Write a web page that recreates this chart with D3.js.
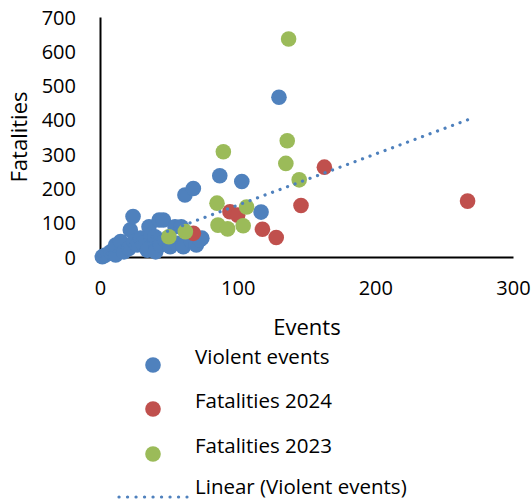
<!DOCTYPE html>
<html>
<head>
<meta charset="utf-8">
<script src="https://cdn.jsdelivr.net/npm/d3@7"></script>
<style>
  html, body { margin: 0; padding: 0; background: #fff; }
  svg { display: block; }
  text { font-family: "Open Sans", "Noto Sans", sans-serif; fill: #000; }
</style>
</head>
<body>
<svg id="chart" width="532" height="501"></svg>
<script>
// ---- data ----
const violentX = [1.7, 4, 7.8, 11.4, 11.4, 15, 17.4, 21, 22, 24, 24.7, 27, 29.5, 31, 34.4, 35.6, 36.8, 40, 41, 40.4, 43, 46, 44, 47, 51, 54.5, 55.7, 59, 60.5, 61.7, 66.5, 67.8, 70, 74, 72.6, 87, 103, 117, 130];
const violentY = [1, 6, 15, 6, 35, 45, 15, 25, 79, 118, 45, 35, 55, 40, 20, 88, 64, 59, 25, 15, 108, 108, 35, 50, 30, 88, 40, 88, 30, 181, 45, 200, 35, 55, 50, 237, 220, 131, 466];
const fat2024X = [67.8, 94.4, 100, 118, 128, 146, 163, 267];
const fat2024Y = [69, 132, 122, 81, 57, 150, 262, 163];
const fat2023X = [50, 62, 85, 85.7, 89.6, 92.7, 104, 106.5, 135, 136, 137, 144.7];
const fat2023Y = [59, 74, 157, 93, 307, 82, 91, 146, 273, 339, 636, 225];
const trendX = [0, 267];
const trendY = [2, 400];
const xTicks = [0, 100, 200, 300];
const yTicks = [0, 100, 200, 300, 400, 500, 600, 700];
const seriesNames = ["Violent events", "Fatalities 2024", "Fatalities 2023", "Linear (Violent events)"];
const colors = ["#4F81BD", "#C0504D", "#9BBB59"];

// ---- layout ----
const svg = d3.select("#chart");
const x = d3.scaleLinear().domain([0, 300]).range([100, 513]);
const y = d3.scaleLinear().domain([0, 700]).range([257, 17]);
const R = 7.8;

// axes (no ticks)
const xAxis = d3.axisBottom(x).tickValues(xTicks).tickSize(0).tickPadding(0);
const gx = svg.append("g").attr("transform", `translate(0,${y(0)})`).call(xAxis);
gx.select(".domain").attr("stroke", "#000").attr("stroke-width", 2);
gx.selectAll("text").attr("font-size", 20).attr("font-family", "Open Sans").attr("fill", "#000")
  .attr("y", 38).attr("dy", 0);

const yAxis = d3.axisLeft(y).tickValues(yTicks).tickSize(0).tickPadding(0);
const gy = svg.append("g").attr("transform", `translate(${x(0)},0)`).call(yAxis);
gy.select(".domain").attr("stroke", "#000").attr("stroke-width", 2);
gy.selectAll("text").attr("font-size", 20).attr("font-family", "Open Sans").attr("fill", "#000")
  .attr("x", -24).attr("dy", "0.35em");

// axis titles
svg.append("text").attr("x", 307).attr("y", 335).attr("text-anchor", "middle")
  .attr("font-size", 22).text("Events");
svg.append("text").attr("transform", `translate(27,${(y(0) + y(700)) / 2}) rotate(-90)`)
  .attr("text-anchor", "middle").attr("font-size", 22).text("Fatalities");

// points
function drawSeries(xs, ys, color) {
  svg.append("g").selectAll("circle").data(xs.map((d, i) => [d, ys[i]])).join("circle")
    .attr("cx", d => x(d[0])).attr("cy", d => y(d[1])).attr("r", R).attr("fill", color);
}
drawSeries(violentX, violentY, colors[0]);
drawSeries(fat2024X, fat2024Y, colors[1]);
drawSeries(fat2023X, fat2023Y, colors[2]);

// trend line
const line = d3.line().x(d => x(d[0])).y(d => y(d[1]));
svg.append("path").datum(trendX.map((d, i) => [d, trendY[i]])).attr("d", line)
  .attr("fill", "none").attr("stroke", colors[0]).attr("stroke-width", 3.2)
  .attr("stroke-linecap", "round").attr("stroke-dasharray", "0.1 7.9");

// legend
const legY = [364, 408, 453, 494];
const lg = svg.append("g");
seriesNames.forEach((name, i) => {
  if (i < 3) {
    lg.append("circle").attr("cx", 153).attr("cy", legY[i] + 1).attr("r", R).attr("fill", colors[i]);
  } else {
    lg.append("line").attr("x1", 119).attr("x2", 187).attr("y1", legY[i] + 3).attr("y2", legY[i] + 3)
      .attr("stroke", colors[0]).attr("stroke-width", 3.2).attr("stroke-linecap", "round")
      .attr("stroke-dasharray", "0.1 8.4");
  }
  lg.append("text").attr("x", 195).attr("y", legY[i]).attr("font-size", 20.5).text(name);
});
</script>
</body>
</html>
